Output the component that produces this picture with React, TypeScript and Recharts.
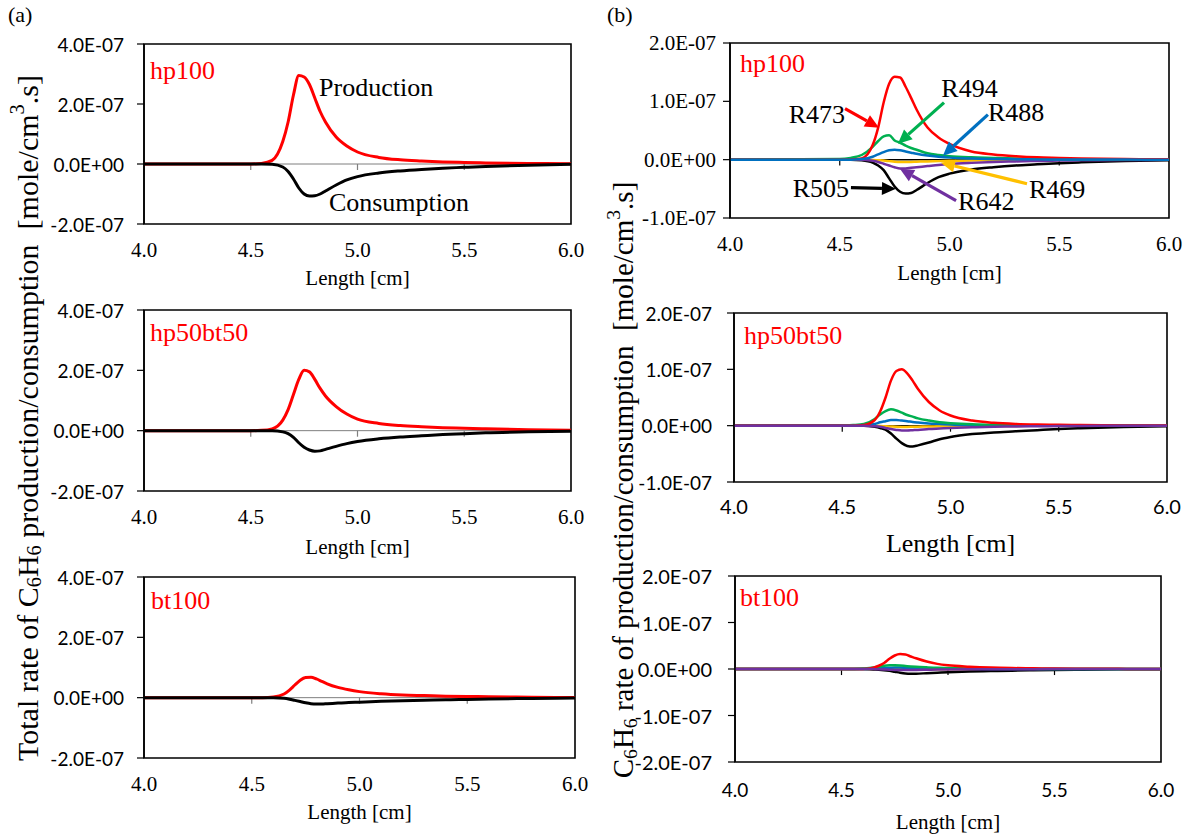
import { LineChart, Line, XAxis, YAxis, ReferenceLine, ReferenceArea, ReferenceDot } from 'recharts'

// distance along the reactor [cm]
const lengthCm = [4.0, 4.5, 4.55, 4.6, 4.65, 4.675, 4.7, 4.725, 4.75, 4.775, 4.8, 4.825, 4.85, 4.9, 4.95, 5.0, 5.1, 5.2, 5.3, 5.4, 5.5, 5.6, 5.8, 6.0]

// (a) total C6H6 rates, in 1e-7 mole/cm3.s
const hp100Prod = [0, 0, 0.02, 0.12, 0.75, 1.4, 2.3, 2.95, 2.9, 2.65, 2.2, 1.75, 1.4, 0.9, 0.6, 0.4, 0.22, 0.14, 0.1, 0.07, 0.05, 0.035, 0.02, 0.01]
const hp100Cons = [0, 0, 0, -0.01, -0.1, -0.25, -0.5, -0.8, -1.0, -1.07, -1.06, -1.0, -0.9, -0.7, -0.53, -0.42, -0.3, -0.23, -0.18, -0.14, -0.11, -0.08, -0.04, -0.01]
const hp50bt50Prod = [0, 0, 0.01, 0.06, 0.35, 0.7, 1.2, 1.7, 2.0, 1.95, 1.7, 1.4, 1.15, 0.8, 0.55, 0.38, 0.24, 0.17, 0.13, 0.1, 0.08, 0.06, 0.03, 0.01]
const hp50bt50Cons = [0, 0, 0, 0, -0.04, -0.1, -0.22, -0.4, -0.55, -0.64, -0.68, -0.67, -0.62, -0.52, -0.43, -0.36, -0.27, -0.21, -0.17, -0.13, -0.1, -0.07, -0.04, -0.02]
const bt100Prod = [0, 0, 0, 0.02, 0.12, 0.25, 0.42, 0.58, 0.67, 0.68, 0.62, 0.54, 0.46, 0.34, 0.26, 0.2, 0.13, 0.09, 0.07, 0.05, 0.04, 0.03, 0.015, 0.005]
const bt100Cons = [0, 0, 0, 0, -0.02, -0.05, -0.09, -0.13, -0.17, -0.2, -0.21, -0.21, -0.2, -0.18, -0.16, -0.15, -0.12, -0.1, -0.085, -0.07, -0.06, -0.045, -0.025, -0.01]

// (b) C6H6 rates by reaction, in 1e-7 mole/cm3.s
const hp100R473 = [0, 0, 0, 0.02, 0.25, 0.55, 0.98, 1.3, 1.42, 1.41, 1.25, 1.06, 0.86, 0.55, 0.38, 0.27, 0.14, 0.09, 0.06, 0.04, 0.03, 0.02, 0.01, 0.005]
const hp100R494 = [0, 0.01, 0.03, 0.08, 0.22, 0.32, 0.4, 0.42, 0.33, 0.29, 0.24, 0.2, 0.17, 0.11, 0.08, 0.06, 0.04, 0.03, 0.02, 0.015, 0.01, 0.008, 0.004, 0.002]
const hp100R488 = [0, 0, 0, 0.01, 0.05, 0.09, 0.13, 0.16, 0.17, 0.16, 0.14, 0.12, 0.1, 0.07, 0.05, 0.035, 0.02, 0.012, 0.008, 0.005, 0.003, 0.002, 0.001, 0]
const hp100R505 = [0, 0, 0, -0.01, -0.05, -0.1, -0.18, -0.32, -0.46, -0.55, -0.58, -0.57, -0.52, -0.4, -0.3, -0.24, -0.17, -0.13, -0.1, -0.08, -0.06, -0.045, -0.025, -0.01]
const hp100R642 = [0, 0, 0, 0, -0.02, -0.04, -0.07, -0.1, -0.13, -0.15, -0.15, -0.14, -0.13, -0.11, -0.09, -0.075, -0.055, -0.04, -0.03, -0.022, -0.016, -0.012, -0.006, -0.002]
const hp100R469 = [0, 0, 0, 0, -0.005, -0.01, -0.015, -0.025, -0.035, -0.04, -0.04, -0.038, -0.035, -0.03, -0.025, -0.02, -0.015, -0.01, -0.008, -0.005, -0.004, -0.003, -0.002, -0.001]

const hp50bt50R473 = [0, 0, 0, 0.01, 0.1, 0.25, 0.5, 0.8, 0.97, 1.0, 0.93, 0.8, 0.65, 0.42, 0.27, 0.18, 0.09, 0.05, 0.03, 0.02, 0.015, 0.01, 0.005, 0.002]
const hp50bt50R494 = [0, 0, 0.01, 0.03, 0.12, 0.2, 0.26, 0.29, 0.27, 0.23, 0.19, 0.16, 0.13, 0.09, 0.06, 0.045, 0.025, 0.015, 0.01, 0.007, 0.005, 0.003, 0.001, 0]
const hp50bt50R488 = [0, 0, 0, 0.01, 0.03, 0.06, 0.08, 0.1, 0.1, 0.09, 0.08, 0.065, 0.055, 0.04, 0.03, 0.02, 0.01, 0.006, 0.004, 0.002, 0.001, 0, 0, 0]
const hp50bt50R505 = [0, 0, 0, 0, -0.02, -0.04, -0.07, -0.14, -0.23, -0.31, -0.36, -0.37, -0.35, -0.3, -0.24, -0.2, -0.15, -0.12, -0.1, -0.08, -0.06, -0.045, -0.025, -0.01]
const hp50bt50R642 = [0, 0, 0, 0, -0.01, -0.02, -0.04, -0.06, -0.075, -0.085, -0.085, -0.08, -0.075, -0.06, -0.05, -0.04, -0.03, -0.02, -0.015, -0.01, -0.008, -0.005, -0.002, 0]
const hp50bt50R469 = [0, 0, 0, 0, -0.003, -0.006, -0.01, -0.015, -0.02, -0.022, -0.022, -0.02, -0.018, -0.015, -0.012, -0.01, -0.007, -0.005, -0.004, -0.003, -0.002, -0.001, 0, 0]

const bt100R473 = [0, 0, 0, 0, 0.03, 0.07, 0.13, 0.22, 0.29, 0.32, 0.31, 0.27, 0.23, 0.16, 0.11, 0.08, 0.05, 0.03, 0.02, 0.015, 0.01, 0.007, 0.003, 0.001]
const bt100R494 = [0, 0, 0, 0.01, 0.03, 0.05, 0.07, 0.08, 0.08, 0.075, 0.065, 0.055, 0.047, 0.035, 0.025, 0.02, 0.012, 0.008, 0.005, 0.003, 0.002, 0.001, 0, 0]
const bt100R488 = [0, 0, 0, 0, 0.01, 0.015, 0.02, 0.025, 0.03, 0.03, 0.025, 0.02, 0.018, 0.013, 0.01, 0.007, 0.004, 0.002, 0.001, 0, 0, 0, 0, 0]
const bt100R505 = [0, 0, 0, 0, -0.01, -0.015, -0.025, -0.04, -0.06, -0.08, -0.095, -0.1, -0.1, -0.09, -0.08, -0.07, -0.055, -0.045, -0.035, -0.028, -0.022, -0.017, -0.008, -0.003]
const bt100R642 = [0, 0, 0, 0, 0, -0.005, -0.01, -0.015, -0.02, -0.022, -0.022, -0.02, -0.019, -0.016, -0.013, -0.011, -0.008, -0.006, -0.004, -0.003, -0.002, -0.001, 0, 0]
const bt100R469 = [0, 0, 0, 0, 0, -0.003, -0.005, -0.008, -0.01, -0.012, -0.012, -0.011, -0.01, -0.008, -0.007, -0.006, -0.004, -0.003, -0.002, -0.001, -0.001, 0, 0, 0]

const xTicks = [4, 4.5, 5, 5.5, 6]
const zeroTicks = [4.5, 5, 5.5]

const SERIF = '"Liberation Serif", "Times New Roman", serif'
const SANS = 'Lato, "Open Sans", sans-serif'
const RED = '#ff0000'
const GREEN = '#00b050'
const BLUE = '#0070c0'
const PURPLE = '#7030a0'
const ORANGE = '#ffc000'

const fmtE = (v: number) => (v === 0 ? '0.0E+00' : `${v.toFixed(1)}E-07`)

function rows(series: Record<string, number[]>) {
  return lengthCm.map((x, i) => {
    const r: Record<string, number> = { x }
    for (const k of Object.keys(series)) r[k] = series[k][i]
    return r
  })
}

type Font = { family: string; size: number }
type Note = { text: string; x: number; y: number; pos: 'left' | 'right' | 'center'; color: string }
type Arrow = { from: [number, number]; to: [number, number]; color: string }
type SeriesDef = { key: string; color: string }

function arrowShape(color: string) {
  return (p: any) => {
    const { x1, y1, x2, y2 } = p
    const a = Math.atan2(y2 - y1, x2 - x1)
    const L = 14
    const W = 6.5
    const bx = x2 - L * Math.cos(a)
    const by = y2 - L * Math.sin(a)
    const nx = -Math.sin(a) * W
    const ny = Math.cos(a) * W
    return (
      <g>
        <line x1={x1} y1={y1} x2={bx} y2={by} stroke={color} strokeWidth={3.2} />
        <polygon points={`${x2},${y2} ${bx + nx},${by + ny} ${bx - nx},${by - ny}`} fill={color} />
      </g>
    )
  }
}

function XTick(props: any) {
  const { x, y, payload, font } = props
  return (
    <text x={x} y={y} dy="0.71em" textAnchor="middle" fontFamily={font.family} fontSize={font.size} fill="#000">
      {Number(payload.value).toFixed(1)}
    </text>
  )
}

function YTick(props: any) {
  const { x, y, payload, font } = props
  return (
    <text x={x} y={y} textAnchor="end" dominantBaseline="central" fontFamily={font.family} fontSize={font.size} fill="#000">
      {fmtE(Number(payload.value))}
    </text>
  )
}

function XTitle(props: any) {
  const { viewBox, titleText, titleDy, titleFont } = props
  if (!viewBox) return null
  return (
    <text x={viewBox.x + viewBox.width / 2} y={viewBox.y + titleDy} textAnchor="middle"
      dominantBaseline="central" fontFamily={titleFont.family} fontSize={titleFont.size} fill="#000">
      {titleText}
    </text>
  )
}

type PanelProps = {
  left: number; top: number; width: number; height: number
  plotL: number; plotR: number; plotT: number; plotB: number
  data: Record<string, number>[]
  series: SeriesDef[]
  lineWidth: number
  yDomain: [number, number]; yTicks: number[]
  yFont: Font; yGap: number
  xFont: Font; xGap: number
  titleFont: Font; titleDy: number
  zeroColor: string; zeroWidth: number; tickLen: number
  name: { text: string; x: number; y: number }
  notes?: Note[]
  arrows?: Arrow[]
}

function Panel(p: PanelProps) {
  const noteSize = 26
  return (
    <div style={{ position: 'absolute', left: p.left, top: p.top }}>
      <LineChart width={p.width} height={p.height} data={p.data}
        margin={{ top: p.plotT - p.top, right: p.left + p.width - p.plotR, bottom: 0, left: 0 }}>
        <XAxis dataKey="x" type="number" domain={[4, 6]} ticks={xTicks} interval={0} allowDataOverflow
          axisLine={false} tickLine={false} tickSize={0}
          tickMargin={p.xGap} height={p.top + p.height - p.plotB}
          tick={<XTick font={p.xFont} />}
          label={<XTitle titleText="Length [cm]" titleDy={p.titleDy} titleFont={p.titleFont} />} />
        <YAxis type="number" domain={p.yDomain} ticks={p.yTicks} interval={0} allowDataOverflow
          width={p.plotL - p.left} tickSize={7} tickMargin={p.yGap}
          tickLine={{ stroke: '#000', strokeWidth: 1.2 }} axisLine={{ stroke: '#000', strokeWidth: 1.5 }}
          tick={<YTick font={p.yFont} />} />
        <ReferenceArea x1={4} x2={6} y1={p.yDomain[0]} y2={p.yDomain[1]} fill="none" fillOpacity={0}
          stroke="#000" strokeWidth={1.6} />
        <ReferenceLine y={0} stroke={p.zeroColor} strokeWidth={p.zeroWidth} />
        {zeroTicks.map(t => (
          <ReferenceLine key={t} segment={[{ x: t, y: 0 }, { x: t, y: -p.tickLen }]}
            stroke={p.zeroColor === '#000' ? '#000' : '#7f7f7f'} strokeWidth={1.2} />
        ))}
        {p.series.map(s => (
          <Line key={s.key} dataKey={s.key} stroke={s.color} strokeWidth={p.lineWidth} type="monotone"
            dot={false} activeDot={false} isAnimationActive={false} />
        ))}
        <ReferenceDot x={p.name.x} y={p.name.y} r={0} fill="none" stroke="none"
          label={{ value: p.name.text, position: 'right', offset: 0, fill: RED, fontSize: noteSize, fontFamily: SERIF }} />
        {(p.arrows || []).map((a, i) => (
          <ReferenceLine key={'a' + i} segment={[{ x: a.from[0], y: a.from[1] }, { x: a.to[0], y: a.to[1] }]}
            stroke={a.color} shape={arrowShape(a.color)} />
        ))}
        {(p.notes || []).map(n => (
          <ReferenceDot key={n.text} x={n.x} y={n.y} r={0} fill="none" stroke="none"
            label={{ value: n.text, position: n.pos, offset: 0, fill: n.color, fontSize: noteSize, fontFamily: SERIF }} />
        ))}
      </LineChart>
    </div>
  )
}

const totalSeries: SeriesDef[] = [
  { key: 'prod', color: RED },
  { key: 'cons', color: '#000' },
]
const hp100Series: SeriesDef[] = [
  { key: 'R469', color: ORANGE },
  { key: 'R505', color: '#000' },
  { key: 'R642', color: PURPLE },
  { key: 'R494', color: GREEN },
  { key: 'R473', color: RED },
  { key: 'R488', color: BLUE },
]
const otherSeries: SeriesDef[] = [
  { key: 'R469', color: ORANGE },
  { key: 'R505', color: '#000' },
  { key: 'R488', color: BLUE },
  { key: 'R494', color: GREEN },
  { key: 'R473', color: RED },
  { key: 'R642', color: PURPLE },
]

const hp100Notes: Note[] = [
  { text: 'R473', x: 4.524, y: 0.79, pos: 'left', color: '#000' },
  { text: 'R494', x: 5.091, y: 1.235, pos: 'center', color: '#000' },
  { text: 'R488', x: 5.175, y: 0.823, pos: 'right', color: '#000' },
  { text: 'R505', x: 4.542, y: -0.48, pos: 'left', color: '#000' },
  { text: 'R642', x: 5.039, y: -0.703, pos: 'right', color: '#000' },
  { text: 'R469', x: 5.362, y: -0.497, pos: 'right', color: '#000' },
]
const hp100Arrows: Arrow[] = [
  { from: [4.524, 0.875], to: [4.679, 0.549], color: RED },
  { from: [4.975, 0.978], to: [4.765, 0.274], color: GREEN },
  { from: [5.175, 0.772], to: [4.97, 0.069], color: BLUE },
  { from: [4.551, -0.48], to: [4.756, -0.5], color: '#000' },
  { from: [5.03, -0.703], to: [4.774, -0.154], color: PURPLE },
  { from: [5.353, -0.412], to: [4.961, -0.051], color: ORANGE },
]

const aCommon = {
  left: 0, width: 590, plotL: 144,
  series: totalSeries, lineWidth: 3,
  yDomain: [-2, 4] as [number, number], yTicks: [-2, 0, 2, 4],
  yFont: { family: SANS, size: 19 }, yGap: 13,
  xFont: { family: SERIF, size: 21 }, xGap: 18,
  titleFont: { family: SERIF, size: 21 },
  zeroColor: '#7f7f7f', zeroWidth: 1, tickLen: 0.2,
}

const bCommon = {
  left: 600, width: 583, lineWidth: 2.5,
  zeroColor: '#000', zeroWidth: 1.5,
}

export default function App() {
  const units = (
    <>
      <tspan>{'\u00a0\u00a0[mole/cm'}</tspan>
      <tspan dy={-10} fontSize="68%">3</tspan>
      <tspan dy={10}>.s]</tspan>
    </>
  )
  return (
    <div style={{ position: 'absolute', left: 0, top: 0, width: 1183, height: 838, background: '#fff', overflow: 'hidden', fontFamily: SERIF }}>
      <Panel {...aCommon} top={0} height={290} plotR={571} plotT={44} plotB={224} titleDy={54}
        data={rows({ prod: hp100Prod, cons: hp100Cons })}
        name={{ text: 'hp100', x: 4.028, y: 3.13 }}
        notes={[
          { text: 'Production', x: 4.82, y: 2.57, pos: 'right', color: '#000' },
          { text: 'Consumption', x: 4.866, y: -1.27, pos: 'right', color: '#000' },
        ]} />
      <Panel {...aCommon} top={290} height={270} plotR={571} plotT={310} plotB={491} titleDy={56}
        data={rows({ prod: hp50bt50Prod, cons: hp50bt50Cons })}
        name={{ text: 'hp50bt50', x: 4.028, y: 3.27 }} />
      <Panel {...aCommon} top={560} height={278} plotR={575} plotT={577} plotB={758} titleDy={54}
        data={rows({ prod: bt100Prod, cons: bt100Cons })}
        name={{ text: 'bt100', x: 4.033, y: 3.23 }} />

      <Panel {...bCommon} top={0} height={290} plotL={730} plotR={1169} plotT={43} plotB={218}
        data={rows({ R473: hp100R473, R494: hp100R494, R488: hp100R488, R505: hp100R505, R642: hp100R642, R469: hp100R469 })}
        series={hp100Series} yDomain={[-1, 2]} yTicks={[-1, 0, 1, 2]}
        yFont={{ family: SERIF, size: 21 }} yGap={7}
        xFont={{ family: SERIF, size: 21 }} xGap={18}
        titleFont={{ family: SERIF, size: 21 }} titleDy={55} tickLen={0.1}
        name={{ text: 'hp100', x: 4.046, y: 1.66 }}
        notes={hp100Notes} arrows={hp100Arrows} />
      <Panel {...bCommon} top={290} height={270} plotL={734} plotR={1167} plotT={313} plotB={482}
        data={rows({ R473: hp50bt50R473, R494: hp50bt50R494, R488: hp50bt50R488, R505: hp50bt50R505, R642: hp50bt50R642, R469: hp50bt50R469 })}
        series={otherSeries} yDomain={[-1, 2]} yTicks={[-1, 0, 1, 2]}
        yFont={{ family: SANS, size: 19 }} yGap={15}
        xFont={{ family: SANS, size: 20 }} xGap={18}
        titleFont={{ family: SERIF, size: 26 }} titleDy={61} tickLen={0.107}
        name={{ text: 'hp50bt50', x: 4.046, y: 1.61 }} />
      <Panel {...bCommon} top={560} height={278} plotL={735} plotR={1161} plotT={576} plotB={762}
        data={rows({ R473: bt100R473, R494: bt100R494, R488: bt100R488, R505: bt100R505, R642: bt100R642, R469: bt100R469 })}
        series={otherSeries} yDomain={[-2, 2]} yTicks={[-2, -1, 0, 1, 2]}
        yFont={{ family: SANS, size: 20 }} yGap={16}
        xFont={{ family: SANS, size: 19 }} xGap={22}
        titleFont={{ family: SERIF, size: 21 }} titleDy={60} tickLen={0.13}
        name={{ text: 'bt100', x: 4.023, y: 1.55 }} />

      <svg width={1183} height={838} style={{ position: 'absolute', left: 0, top: 0, pointerEvents: 'none' }}>
        <text x={8} y={14} dominantBaseline="central" fontFamily={SERIF} fontSize={22}>(a)</text>
        <text x={607} y={14} dominantBaseline="central" fontFamily={SERIF} fontSize={22}>(b)</text>
        <text transform="translate(27,418) rotate(-90)" textAnchor="middle" dominantBaseline="central"
          fontFamily={SERIF} fontSize={30} fill="#000">
          <tspan>Total rate of C</tspan>
          <tspan dy={7} fontSize="68%">6</tspan>
          <tspan dy={-7}>H</tspan>
          <tspan dy={7} fontSize="68%">6</tspan>
          <tspan dy={-7}>{' production/consumption'}</tspan>
          {units}
        </text>
        <text transform="translate(623,480) rotate(-90)" textAnchor="middle" dominantBaseline="central"
          fontFamily={SERIF} fontSize={29} fill="#000">
          <tspan>C</tspan>
          <tspan dy={7} fontSize="68%">6</tspan>
          <tspan dy={-7}>H</tspan>
          <tspan dy={7} fontSize="68%">6</tspan>
          <tspan dy={-7}>{' rate of production/consumption'}</tspan>
          {units}
        </text>
      </svg>
    </div>
  )
}
